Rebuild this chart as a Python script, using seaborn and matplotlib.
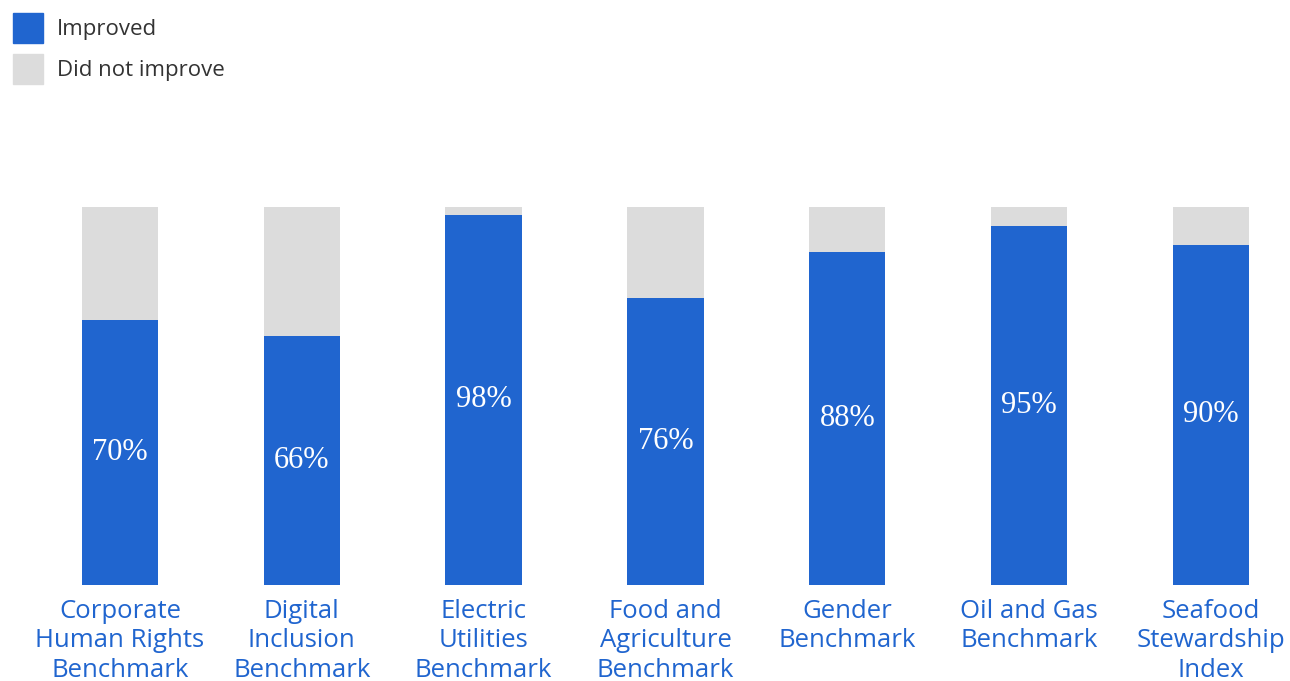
import matplotlib
matplotlib.use('Agg')
import matplotlib.pyplot as plt
import matplotlib.patches as mpatches
import numpy as np
import pandas as pd
import seaborn as sns

# data
categories = ['Corporate\nHuman Rights\nBenchmark', 'Digital\nInclusion\nBenchmark',
              'Electric\nUtilities\nBenchmark', 'Food and\nAgriculture\nBenchmark',
              'Gender\nBenchmark', 'Oil and Gas\nBenchmark',
              'Seafood\nStewardship\nIndex']
improved = [70, 66, 98, 76, 88, 95, 90]
total = [100, 100, 100, 100, 100, 100, 100]

blue = '#2065CF'
grey = '#DCDCDC'

sns.set_style('white')
plt.rcParams['font.family'] = ['Open Sans', 'DejaVu Sans']

df = pd.DataFrame({'category': categories, 'improved': improved, 'total': total})

fig = plt.figure(figsize=(12.9, 6.81), dpi=100)
ax = fig.add_axes([0.0, 0.141, 1.0, 0.555])

sns.barplot(x='category', y='total', data=df, color=grey, width=0.42,
            saturation=1, linewidth=0, ax=ax)
sns.barplot(x='category', y='improved', data=df, color=blue, width=0.42,
            saturation=1, linewidth=0, ax=ax)

# value labels in the middle of the blue part
for i, v in enumerate(improved):
    ax.text(i, v / 2, f'{v}%', ha='center', va='center', color='white',
            fontsize=22, family=['Liberation Serif', 'DejaVu Serif'])

ax.set_xlim(-0.66, 6.435)
ax.set_ylim(0, 100)
ax.set_xlabel('')
ax.set_ylabel('')
ax.set_yticks([])
ax.tick_params(axis='x', length=0, pad=10, labelsize=18.5, labelcolor=blue)
for lbl in ax.get_xticklabels():
    lbl.set_linespacing(1.24)
sns.despine(ax=ax, left=True, bottom=True)

handles = [mpatches.Patch(color=blue, label='Improved'),
           mpatches.Patch(color=grey, label='Did not improve')]
leg = fig.legend(handles=handles, loc='upper left', bbox_to_anchor=(0.0, 1.0),
                 frameon=False, fontsize=16, handlelength=1.35, handleheight=1.68,
                 labelspacing=0.5, handletextpad=0.6, borderaxespad=0.0,
                 borderpad=0.6)
for t in leg.get_texts():
    t.set_color('#333333')

plt.savefig('out.png', dpi=100)
